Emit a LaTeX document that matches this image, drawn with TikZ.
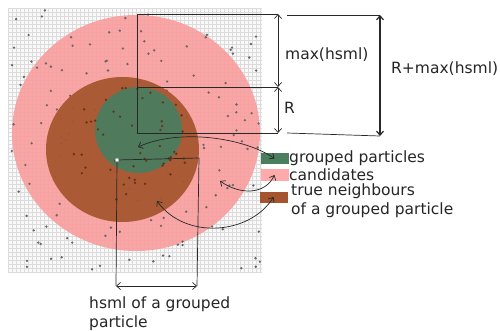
\documentclass[tikz,border=0pt]{standalone}
\usepackage{fontspec}
\setmainfont{DejaVu Sans}
\usetikzlibrary{arrows.meta}

\definecolor{candpink}{RGB}{250,155,155}
\definecolor{legpink}{RGB}{255,170,170}
\definecolor{neighbrown}{RGB}{165,85,45}
\definecolor{groupgreen}{RGB}{75,125,95}
\definecolor{linegray}{RGB}{40,40,40}

\tikzset{
  dim/.style={linegray, line width=0.7pt},
  dimarrow/.style={dim, {Straight Barb[length=4pt,width=7pt]}-{Straight Barb[length=4pt,width=7pt]}},
  curvearrow/.style={dim, {Straight Barb[length=4pt,width=7pt]}-{Straight Barb[length=4pt,width=7pt]}},
  lbl/.style={font=\fontsize{15.5}{18.5}\selectfont, text=black!85, inner sep=0pt, anchor=base west},
  legendbox/.style={rectangle, minimum width=28pt, minimum height=11pt, inner sep=0pt},
}

\begin{document}
\begin{tikzpicture}[x=1pt, y=-1pt]
  \useasboundingbox (0,0) rectangle (500,331);
  \fill[white] (0,0) rectangle (500,331);

  % Textured background square
  \fill[gray!5] (8,8) rectangle (262,272);
  \draw[gray!28, line width=0.5pt, step=4pt] (8,8) grid (262,272);

  % Candidates
  \fill[candpink, opacity=0.88] (136,133) ellipse [x radius=124, y radius=118];

  % Particles (grey)
  \pgfmathsetseed{42}
  \foreach \i in {1,...,150}{
    \pgfmathsetmacro{\dx}{10+250*rnd}
    \pgfmathsetmacro{\dy}{10+260*rnd}
    \fill[gray!80!black] (\dx,\dy) circle (1.3pt);
  }

  % True neighbours and grouped particles
  \fill[neighbrown, opacity=0.93] (122.5,149.5) ellipse [x radius=76.5, y radius=72.5];
  \fill[groupgreen, opacity=0.95] (138.5,130) ellipse [x radius=43.5, y radius=43];

  % Particles (inside)
  \foreach \i in {1,...,50}{
    \pgfmathsetmacro{\da}{360*rnd}
    \pgfmathsetmacro{\dr}{62*sqrt(rnd)}
    \pgfmathsetmacro{\dx}{132+\dr*cos(\da)}
    \pgfmathsetmacro{\dy}{140+\dr*sin(\da)}
    \fill[neighbrown!60!black] (\dx,\dy) circle (1.3pt);
  }

  % R and max(hsml)
  \coordinate (ctr) at (137,133);
  \coordinate (ctop) at (137,14);
  \coordinate (cmid) at (137,87);
  \coordinate (htop) at (278,14);
  \coordinate (hmid) at (278,87);
  \coordinate (hbot) at (278,133);
  \coordinate (rtopl) at (287,15);
  \coordinate (rtop) at (380,15);
  \coordinate (rbotl) at (287,133);
  \coordinate (rbot) at (380,136);
  \draw[dim] (ctr) -- (ctop) -- (htop);
  \draw[dim] (cmid) -- (hmid);
  \draw[dim] (ctr) -- (hbot);
  \draw[dim] (rtopl) -- (rtop);
  \draw[dim] (rbotl) -- (rbot);
  \draw[dimarrow] (htop) -- (hmid);
  \draw[dimarrow] (hmid) -- (hbot);
  \draw[dimarrow, line width=1.2pt] (rtop) -- (rbot);
  \node[lbl] (maxh) at (285,60) {max(hsml)};
  \node[lbl] (rlab) at (284,114) {R};
  \node[lbl] (rmax) at (391,74) {R+max(hsml)};

  % hsml of one particle
  \node[circle, draw=gray, fill=white, inner sep=0pt, minimum size=4pt] (gp) at (117,160) {};
  \coordinate (gpr) at (199,158);
  \coordinate (gpl) at (116,286);
  \coordinate (gprb) at (197,286);
  \draw[dim] (gp) -- (gpr) -- (gprb);
  \draw[dim] (gp) -- (gpl);
  \draw[dimarrow] (gpl) -- (gprb);
  \node[lbl, align=left] (thsml) at (89,327) {hsml of a grouped\\particle};

  % Legend
  \node[legendbox, fill=groupgreen] (lgreen) at (274.5,158.5) {};
  \node[legendbox, fill=legpink] (lpink) at (274.5,175) {};
  \node[legendbox, fill=neighbrown] (lbrown) at (273.5,197) {};
  \node[lbl] (tgreen) at (289,163) {grouped particles};
  \node[lbl] (tpink) at (289,180) {candidates};
  \node[lbl, align=left] (tbrown) at (291,214) {true neighbours\\of a grouped particle};

  \coordinate (ingreen) at (138,147);
  \coordinate (inpink) at (220,181);
  \coordinate (inbrown) at (157,201);
  \draw[curvearrow] (ingreen) .. controls (180,128) and (245,138) .. (lgreen.center);
  \draw[curvearrow] (inpink) .. controls (240,195) and (265,195) .. (lpink.center);
  \draw[curvearrow] (inbrown) .. controls (185,240) and (250,235) .. (lbrown.center);
\end{tikzpicture}
\end{document}
